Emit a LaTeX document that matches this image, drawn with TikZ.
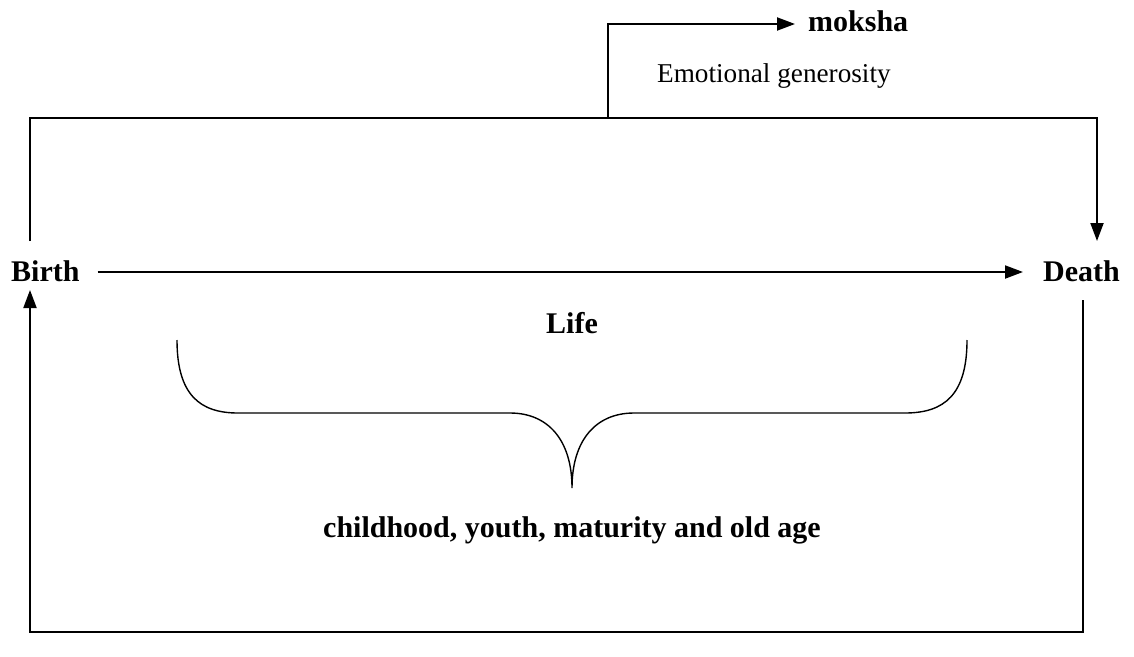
\documentclass[tikz,border=0pt]{standalone}
\usepackage{fontspec}
\setmainfont{Liberation Serif}
\usetikzlibrary{arrows.meta}
\begin{document}
\begin{tikzpicture}[x=1pt,y=-1pt,
  line/.style={line width=2pt},
  arr/.style={line width=2pt,-{Triangle[length=18pt,width=13pt]}},
  bold/.style={font=\fontsize{30}{34}\selectfont\bfseries,inner sep=0pt},
  plain/.style={font=\fontsize{27.2}{32}\selectfont,inner sep=0pt}]
\useasboundingbox (0,0) rectangle (1134,656);
% labels
\node[bold,anchor=base west] (birth) at (11,281) {Birth};
\node[bold,anchor=base west] (death) at (1043,281) {Death};
\node[bold,anchor=base west] (moksha) at (808,31) {moksha};
\node[plain,anchor=base west] (emo) at (657,82) {Emotional generosity};
\node[bold,anchor=base] (life) at (572,333) {Life};
\node[bold,anchor=base] (stages) at (572,537) {childhood, youth, maturity and old age};
% corner points of the loops
\coordinate (tl) at (30,118);
\coordinate (tr) at (1097,118);
\coordinate (bl) at (30,632);
\coordinate (br) at (1083,632);
\coordinate (branch) at (608,118);
\coordinate (mk) at (608,24);
% life line
\draw[arr] ([xshift=18pt]birth.east |- 0,272) -- ([xshift=-20pt]death.west |- 0,272);
% upper loop from birth to death
\draw[arr] (30,241) -- (tl) -- (tr) -- (1097,241);
% branch to moksha
\draw[arr] (branch) -- (mk) -- ([xshift=-13pt]moksha.west |- mk);
% lower loop from death back to birth
\draw[arr] (1083,300) -- (br) -- (bl) -- (30,290);
% brace under life
\draw[line width=1.4pt] (177,340) .. controls (177,395) and (200,413) .. (238,413)
  -- (510,413) .. controls (548,413) and (572,440) .. (572,488)
  .. controls (572,440) and (596,413) .. (634,413)
  -- (905,413) .. controls (944,413) and (967,395) .. (967,340);
\end{tikzpicture}
\end{document}
